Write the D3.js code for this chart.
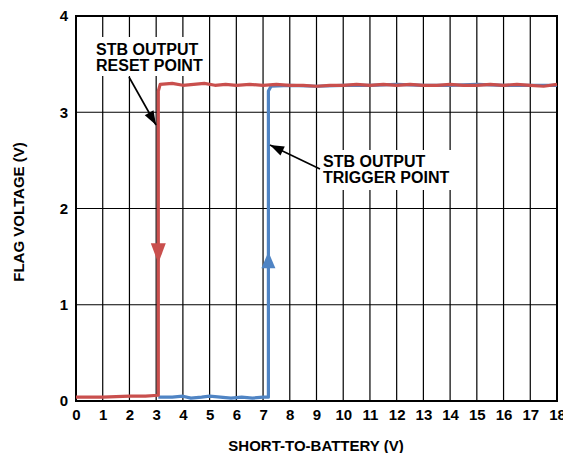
<!DOCTYPE html>
<html><head><meta charset="utf-8">
<script src="https://cdn.jsdelivr.net/npm/d3@7"></script>
<style>body{margin:0;background:#fff;} text{font-family:"Liberation Sans",Arial,sans-serif;font-weight:bold;}</style>
</head><body><svg id="c" width="563" height="453"></svg>
<script>
const xTicks = [0,1,2,3,4,5,6,7,8,9,10,11,12,13,14,15,16,17,18];
const yTicks = [0,1,2,3,4];
const resetSeries = [[0,0.04],[1,0.04],[2,0.05],[2.6,0.05],[3.08,0.06],[3.08,3.22],[3.15,3.29],[3.6,3.30],[4,3.28],[4.4,3.29],[4.8,3.30],[5.2,3.28],[5.6,3.29],[6,3.28],[6.5,3.29],[7,3.28],[7.5,3.29],[8,3.28],[8.5,3.28],[9,3.27],[9.5,3.28],[10,3.28],[10.5,3.29],[11,3.28],[11.5,3.29],[12,3.28],[12.5,3.29],[13,3.28],[13.5,3.28],[14,3.29],[14.5,3.28],[15,3.28],[15.5,3.29],[16,3.28],[16.5,3.29],[17,3.28],[17.5,3.27],[18,3.29]];
const triggerSeries = [[3.08,0.04],[3.6,0.04],[4,0.05],[4.3,0.03],[4.7,0.04],[5,0.05],[5.4,0.04],[5.8,0.03],[6.2,0.04],[6.6,0.03],[7,0.04],[7.2,0.04],[7.2,3.22],[7.3,3.27],[8,3.28],[9,3.27],[10,3.28],[11,3.28],[12,3.29],[13,3.28],[14,3.28],[15,3.29],[16,3.28],[17,3.28],[18,3.28]];
const resetLabel = ["STB OUTPUT","RESET POINT"];
const triggerLabel = ["STB OUTPUT","TRIGGER POINT"];

const svg = d3.select("#c");
const L=76,R=557,T=16,B=401;
const x = d3.scaleLinear().domain([0,18]).range([L,R]);
const y = d3.scaleLinear().domain([0,4]).range([B,T]);

// grid
const g = svg.append("g");
g.selectAll(".vx").data(xTicks.slice(1,-1)).join("line")
  .attr("x1",d=>x(d)).attr("x2",d=>x(d)).attr("y1",T).attr("y2",B)
  .attr("stroke","#000").attr("stroke-width",1.2);
g.selectAll(".hy").data(yTicks.slice(1,-1)).join("line")
  .attr("x1",L).attr("x2",R).attr("y1",d=>y(d)).attr("y2",d=>y(d))
  .attr("stroke","#000").attr("stroke-width",1.2);

// axes
const xa = svg.append("g").attr("transform",`translate(0,${B})`)
  .call(d3.axisBottom(x).tickValues(xTicks).tickFormat(d3.format("d")).tickSize(0).tickPadding(8));
xa.select(".domain").remove();
xa.selectAll("text").attr("font-size",15).attr("fill","#000");
const ya = svg.append("g").attr("transform",`translate(${L},0)`)
  .call(d3.axisLeft(y).tickValues(yTicks).tickFormat(d3.format("d")).tickSize(0).tickPadding(8));
ya.select(".domain").remove();
ya.selectAll("text").attr("font-size",15).attr("fill","#000");

// annotation boxes (white background)
svg.append("rect").attr("x",93).attr("y",37).attr("width",113).attr("height",39).attr("fill","#fff");
svg.append("rect").attr("x",319).attr("y",150).attr("width",136).attr("height",40).attr("fill","#fff");

// frame
svg.append("rect").attr("x",L).attr("y",T).attr("width",R-L).attr("height",B-T)
  .attr("fill","none").attr("stroke","#000").attr("stroke-width",2);

// lines
const lineL = d3.line().x(d=>x(d[0])).y(d=>y(d[1]));
const blue="#4f84c4", red="#c94f4d";
svg.append("path").datum(triggerSeries).attr("d",lineL).attr("fill","none")
  .attr("stroke",blue).attr("stroke-width",3.2).attr("stroke-linejoin","round");
svg.append("path").datum(resetSeries).attr("d",lineL).attr("fill","none")
  .attr("stroke",red).attr("stroke-width",3.2).attr("stroke-linejoin","round");

// direction triangles
const rx = x(3.08), bx = x(7.2);
svg.append("path").attr("d",`M${rx-7.5},${y(1.64)} L${rx+7.5},${y(1.64)} L${rx},${y(1.43)}Z`).attr("fill",red);
svg.append("path").attr("d",`M${bx-7},${y(1.38)} L${bx+7},${y(1.38)} L${bx},${y(1.55)}Z`).attr("fill",blue);

// annotation text
const t1 = svg.append("text").attr("font-size",16).attr("fill","#000");
resetLabel.forEach((s,i)=>t1.append("tspan").attr("x",96).attr("y",55+i*16).text(s));
const t2 = svg.append("text").attr("font-size",16).attr("fill","#000");
triggerLabel.forEach((s,i)=>t2.append("tspan").attr("x",323).attr("y",167+i*16).text(s));

// arrows
function arrow(x1,y1,x2,y2){
  svg.append("line").attr("x1",x1).attr("y1",y1).attr("x2",x2).attr("y2",y2)
    .attr("stroke","#000").attr("stroke-width",1.6);
  const a=Math.atan2(y2-y1,x2-x1), len=14, w=5;
  const bx0=x2-len*Math.cos(a), by0=y2-len*Math.sin(a);
  const px=-Math.sin(a)*w, py=Math.cos(a)*w;
  svg.append("path").attr("d",`M${x2},${y2} L${bx0+px},${by0+py} L${bx0-px},${by0-py}Z`).attr("fill","#000");
}
arrow(129,77,156,125);
arrow(320,169,270,145);

// axis titles
svg.append("text").attr("x",316).attr("y",451).attr("text-anchor","middle").attr("font-size",15).text("SHORT-TO-BATTERY (V)");
svg.append("text").attr("transform","translate(24,212) rotate(-90)").attr("text-anchor","middle").attr("font-size",15).text("FLAG VOLTAGE (V)");
</script></body></html>
